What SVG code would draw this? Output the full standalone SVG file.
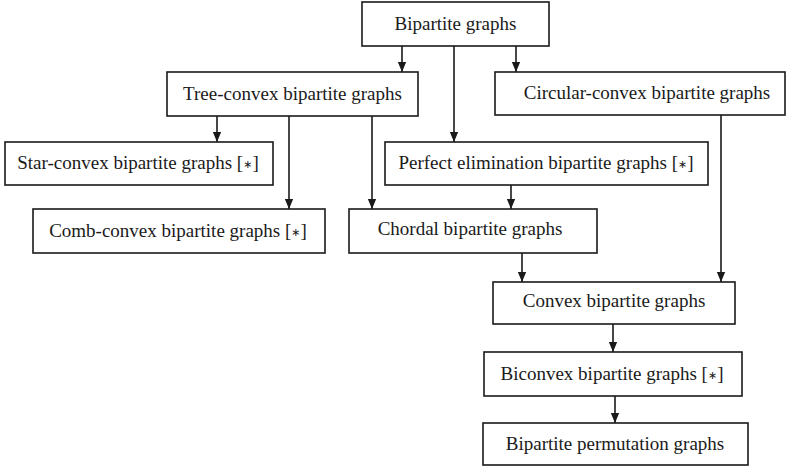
<svg xmlns="http://www.w3.org/2000/svg" width="791" height="468" viewBox="0 0 791 468">
<defs>
<marker id="a" markerWidth="10" markerHeight="12" refX="12" refY="5" orient="auto" markerUnits="userSpaceOnUse" viewBox="0 0 12 10">
<path d="M0,0 L12,5 L0,10 Z" fill="#1a1a1a"/>
</marker>
</defs>
<style>
.box{fill:#fff;stroke:#1a1a1a;stroke-width:1.6}
.t{font-family:"Liberation Serif","Times New Roman",serif;font-size:19px;fill:#1a1a1a;text-anchor:middle}
.s{font-family:"DejaVu Sans",sans-serif;font-size:11px}
.c{stroke:#1a1a1a;stroke-width:1.6;fill:none;marker-end:url(#a)}
</style>
<rect width="791" height="468" fill="#fff"/>
<g id="connectors">
<line class="c" x1="402" y1="46" x2="402" y2="72"/>
<line class="c" x1="454" y1="46" x2="454" y2="142"/>
<line class="c" x1="516" y1="46" x2="516" y2="72"/>
<line class="c" x1="217" y1="116" x2="217" y2="142"/>
<line class="c" x1="289" y1="116" x2="289" y2="209"/>
<line class="c" x1="372" y1="116" x2="372" y2="209"/>
<line class="c" x1="511" y1="185" x2="511" y2="209"/>
<line class="c" x1="721" y1="115" x2="721" y2="282"/>
<line class="c" x1="522" y1="253" x2="522" y2="282"/>
<line class="c" x1="613" y1="324" x2="613" y2="352"/>
<line class="c" x1="615" y1="396" x2="615" y2="423"/>
</g>
<g id="bipartite">
<rect class="box" x="362" y="2" width="187" height="44"/>
<text class="t" x="455.5" y="30">Bipartite graphs</text>
</g>
<g id="tree-convex">
<rect class="box" x="167" y="72" width="251" height="44"/>
<text class="t" x="292.5" y="100">Tree-convex bipartite graphs</text>
</g>
<g id="circular-convex">
<rect class="box" x="495" y="72" width="290" height="43"/>
<text class="t" x="647" y="99">Circular-convex bipartite graphs</text>
</g>
<g id="star-convex">
<rect class="box" x="5" y="142" width="268" height="43"/>
<text class="t" x="138" y="169">Star-convex bipartite graphs [<tspan class="s" dy="-1">∗</tspan><tspan dy="1">]</tspan></text>
</g>
<g id="perfect-elimination">
<rect class="box" x="385" y="142" width="323" height="43"/>
<text class="t" x="546" y="169">Perfect elimination bipartite graphs [<tspan class="s" dy="-1">∗</tspan><tspan dy="1">]</tspan></text>
</g>
<g id="comb-convex">
<rect class="box" x="33" y="209" width="292" height="44"/>
<text class="t" x="178" y="237">Comb-convex bipartite graphs [<tspan class="s" dy="-1">∗</tspan><tspan dy="1">]</tspan></text>
</g>
<g id="chordal">
<rect class="box" x="349" y="209" width="248" height="44"/>
<text class="t" x="470" y="235">Chordal bipartite graphs</text>
</g>
<g id="convex">
<rect class="box" x="493" y="282" width="242" height="42"/>
<text class="t" x="614" y="307">Convex bipartite graphs</text>
</g>
<g id="biconvex">
<rect class="box" x="484" y="352" width="258" height="44"/>
<text class="t" x="612" y="380">Biconvex bipartite graphs [<tspan class="s" dy="-1">∗</tspan><tspan dy="1">]</tspan></text>
</g>
<g id="bipartite-permutation">
<rect class="box" x="483" y="423" width="265" height="42"/>
<text class="t" x="615" y="450">Bipartite permutation graphs</text>
</g>
</svg>
